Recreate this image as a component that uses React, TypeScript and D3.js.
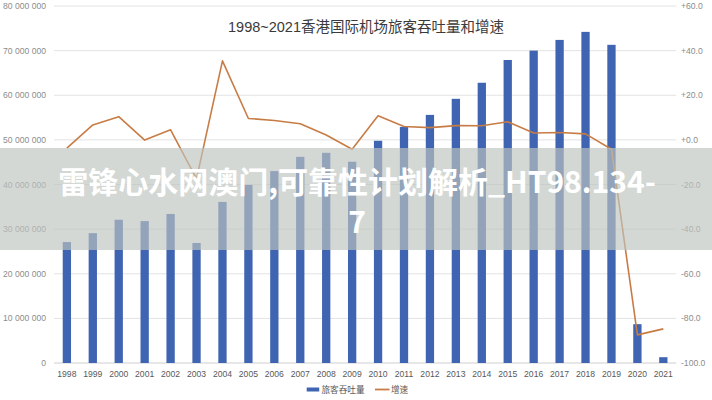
import React from "react";
import * as d3 from "d3";

const years = ["1998","1999","2000","2001","2002","2003","2004","2005","2006","2007","2008","2009","2010","2011","2012","2013","2014","2015","2016","2017","2018","2019","2020","2021"];
const passengers = [27.1,29.1,32.1,31.8,33.4,26.9,36.1,39.9,43.0,46.2,47.1,45.1,49.8,52.9,55.6,59.2,62.8,67.9,70.0,72.4,74.2,71.3,8.7,1.3].map(v => v * 1e6);
const growth = [-3.7,6.7,10.4,-0.1,4.5,-17.5,35.4,9.6,8.7,7.2,2.2,-4.2,10.8,6.0,5.5,6.4,6.3,8.1,3.1,3.3,2.7,-4.2,-87.4,-84.7];
const leftTicks = [0,10e6,20e6,30e6,40e6,50e6,60e6,70e6,80e6];
const rightTicks = [-100,-80,-60,-40,-20,0,20,40,60];
const title = "1998~2021香港国际机场旅客吞吐量和增速";
const legendLabels = ["旅客吞吐量","增速"];
const watermark1 = "雷锋心水网澳门,可靠性计划解析_HT98.134-";
const watermark2 = "7";

const W = 712, H = 400;
const L = 53.9, R = 676.3, T = 6, B = 363;
const BLUE = "#3f64b1";
const ORANGE = "#c87c45";
const FONT = "'Liberation Sans', 'Noto Sans CJK SC', sans-serif";

export default function App() {
  const x = d3.scaleBand<string>().domain(years).range([L, R]).paddingInner(0.68).paddingOuter(0.34);
  const yL = d3.scaleLinear().domain([0, 80e6]).range([B, T]);
  const yR = d3.scaleLinear().domain([-100, 60]).range([B, T]);
  const cx = (y: string) => (x(y) as number) + x.bandwidth() / 2;
  const line = d3.line<number>().x((_, i) => cx(years[i])).y(d => yR(d));
  const fmtL = (v: number) => d3.format(",")(v).replace(/,/g, " ");
  const fmtR = (v: number) => (v >= 0 ? "+" : "-") + Math.abs(v).toFixed(1);

  return (
    <svg width={W} height={H} style={{ position: "absolute", left: 0, top: 0, background: "#fff" }} fontFamily={FONT}>
      <rect x={0} y={0} width={W} height={H} fill="#fff" />
      {leftTicks.map(t => (
        <line key={"g" + t} x1={L} x2={R} y1={yL(t)} y2={yL(t)} stroke={t === 0 ? "#cfcfcf" : "#e3e3e3"} strokeWidth={1} />
      ))}
      {leftTicks.map(t => (
        <text key={"l" + t} x={46} y={yL(t)} dy="0.35em" textAnchor="end" fontSize={8.6} fill="#8c8c8c">{fmtL(t)}</text>
      ))}
      {rightTicks.map(t => (
        <text key={"r" + t} x={681} y={yR(t)} dy="0.35em" textAnchor="start" fontSize={8.6} fill="#8c8c8c">{fmtR(t)}</text>
      ))}
      {years.map((yr, i) => (
        <rect key={"b" + yr} x={x(yr)} y={yL(passengers[i])} width={x.bandwidth()} height={B - yL(passengers[i])} fill={BLUE} />
      ))}
      <path d={line(growth) || ""} fill="none" stroke={ORANGE} strokeWidth={1.6} strokeLinejoin="round" />
      {years.map(yr => (
        <text key={"x" + yr} x={cx(yr)} y={373.5} dy="0.35em" textAnchor="middle" fontSize={8.6} fill="#595959">{yr}</text>
      ))}
      <text x={366} y={26.5} dy="0.35em" textAnchor="middle" fontSize={14.5} fill="#3a3a3a">{title}</text>
      <rect x={306.7} y={387.5} width={12.5} height={4} fill={BLUE} />
      <text x={321.5} y={389.5} dy="0.35em" fontSize={8.6} fill="#595959">{legendLabels[0]}</text>
      <line x1={375} x2={389.5} y1={389.5} y2={389.5} stroke={ORANGE} strokeWidth={1.8} />
      <text x={391} y={389.5} dy="0.35em" fontSize={8.6} fill="#595959">{legendLabels[1]}</text>
      <rect x={0} y={148} width={W} height={102} fill="rgb(190,196,192)" fillOpacity={0.66} />
      <text textAnchor="middle" fontSize={30} fontWeight="bold" fill="#fff" fontFamily="'Noto Sans CJK SC', sans-serif">
        <tspan x={357} y={193}>{watermark1}</tspan>
        <tspan x={357} y={233}>{watermark2}</tspan>
      </text>
    </svg>
  );
}
